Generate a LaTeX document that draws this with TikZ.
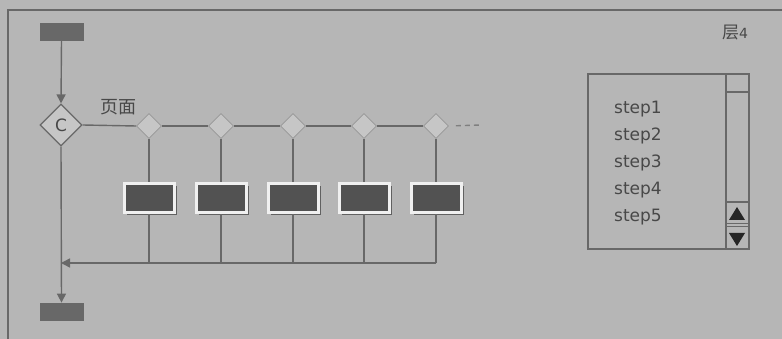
\documentclass[tikz,border=0pt]{standalone}
\usepackage{fontspec}
\setmainfont{DejaVu Sans}
\newfontfamily\cjk{Noto Sans CJK SC}
\usetikzlibrary{shapes.geometric,arrows.meta,shadows}
\definecolor{bgc}{RGB}{182,182,182}
\definecolor{linec}{RGB}{104,104,104}
\definecolor{darkc}{RGB}{82,82,82}
\definecolor{termc}{RGB}{104,104,104}
\definecolor{dfill}{RGB}{198,198,198}
\definecolor{dline}{RGB}{150,150,150}
\definecolor{txtc}{RGB}{72,72,72}
\tikzset{
  conn/.style={draw=linec, line width=1.4pt},
  arr/.style={conn, -{Triangle[width=9pt,length=9pt]}},
  termbox/.style={rectangle, fill=termc, draw=linec, line width=0.8pt, minimum width=43pt, minimum height=17pt, inner sep=0pt},
  cdia/.style={diamond, aspect=1, fill=dfill, draw=linec, line width=1.2pt, minimum width=42pt, minimum height=42pt, inner sep=0pt, text=txtc, font=\fontsize{17}{17}\selectfont},
  sdia/.style={diamond, aspect=1, fill=dfill, draw=dline, line width=0.8pt, minimum width=25pt, minimum height=25pt, inner sep=0pt},
  pagebox/.style={rectangle, fill=darkc, draw=white!88!gray, line width=3pt, minimum width=50pt, minimum height=29pt, inner sep=0pt, drop shadow={shadow xshift=2.5pt, shadow yshift=-2.5pt, fill=black!70, opacity=0.8}},
  steptxt/.style={anchor=west, text=txtc, font=\fontsize{17}{17}\selectfont, inner sep=0pt},
  frameline/.style={draw=linec, line width=1.2pt},
}
\begin{document}
\begin{tikzpicture}[x=1pt,y=-1pt]
\fill[bgc] (0,0) rectangle (782,339);
\useasboundingbox (0,0) rectangle (782,339);
% frame
\coordinate (fl) at (8,339);
\coordinate (fc) at (8,10);
\coordinate (fr) at (782,10);
\draw[frameline] (fl) -- (fc) -- (fr);
% terminals
\node[termbox] (start) at (61.5,31.5) {};
\node[termbox] (end) at (61.5,311.5) {};
% decision
\node[cdia] (c) at (61,125) {C};
\node[text=txtc, font=\cjk\fontsize{18}{18}\selectfont, inner sep=0pt] (lbl) at (118,107) {页面};
% small diamonds and boxes
\foreach \i/\x in {1/149,2/221,3/293,4/364,5/436}{
  \node[sdia] (d\i) at (\x,126) {};
  \node[pagebox] (b\i) at (\x,198.5) {};
  \coordinate (r\i) at (\x,263);
}
\coordinate (dashend) at (481,125);
\coordinate (ret) at (61,263);
% connectors
\draw[arr] (start.south) -- (c.north);
\draw[arr] (c.south) -- (end.north);
\draw[conn] (c.east) -- (d1.west);
\draw[conn] (d1.east) -- (d2.west);
\draw[conn] (d2.east) -- (d3.west);
\draw[conn] (d3.east) -- (d4.west);
\draw[conn] (d4.east) -- (d5.west);
\draw[conn, draw=linec!70!bgc, dashed, dash pattern=on 5pt off 4pt, shorten <=7pt] (d5.east) -- (dashend);
\foreach \i in {1,...,5}{
  \draw[conn] (d\i.south) -- (b\i.north);
  \draw[conn] (b\i.south) -- (r\i);
}
\draw[arr] (r5) -- (ret);
% right panel
\node[rectangle, draw=linec, line width=1.2pt, minimum width=161pt, minimum height=175pt, inner sep=0pt] (panel) at (668.5,161.5) {};
\coordinate (sbt) at (726,74);
\coordinate (sbb) at (726,249);
\draw[frameline] (sbt) -- (sbb);
\coordinate (s1a) at (726,92); \coordinate (s1b) at (749,92);
\draw[frameline] (s1a) -- (s1b);
\coordinate (s2a) at (726,202); \coordinate (s2b) at (749,202);
\draw[frameline] (s2a) -- (s2b);
\coordinate (s3a) at (726,223.5); \coordinate (s3b) at (749,223.5);
\draw[frameline] (s3a) -- (s3b);
\coordinate (s4a) at (726,226.5); \coordinate (s4b) at (749,226.5);
\draw[frameline] (s4a) -- (s4b);
\fill[black!85] (737,207) -- (745,220) -- (729,220) -- cycle;
\fill[black!85] (737,246) -- (745,233) -- (729,233) -- cycle;
\node[steptxt] (t1) at (614,109) {step1};
\node[steptxt] (t2) at (614,136) {step2};
\node[steptxt] (t3) at (614,163) {step3};
\node[steptxt] (t4) at (614,190) {step4};
\node[steptxt] (t5) at (614,217) {step5};
% layer label
\node[text=txtc, inner sep=0pt] (layer) at (735,33) {{\cjk\fontsize{17}{17}\selectfont 层}{\fontsize{14}{14}\selectfont 4}};
\end{tikzpicture}
\end{document}
